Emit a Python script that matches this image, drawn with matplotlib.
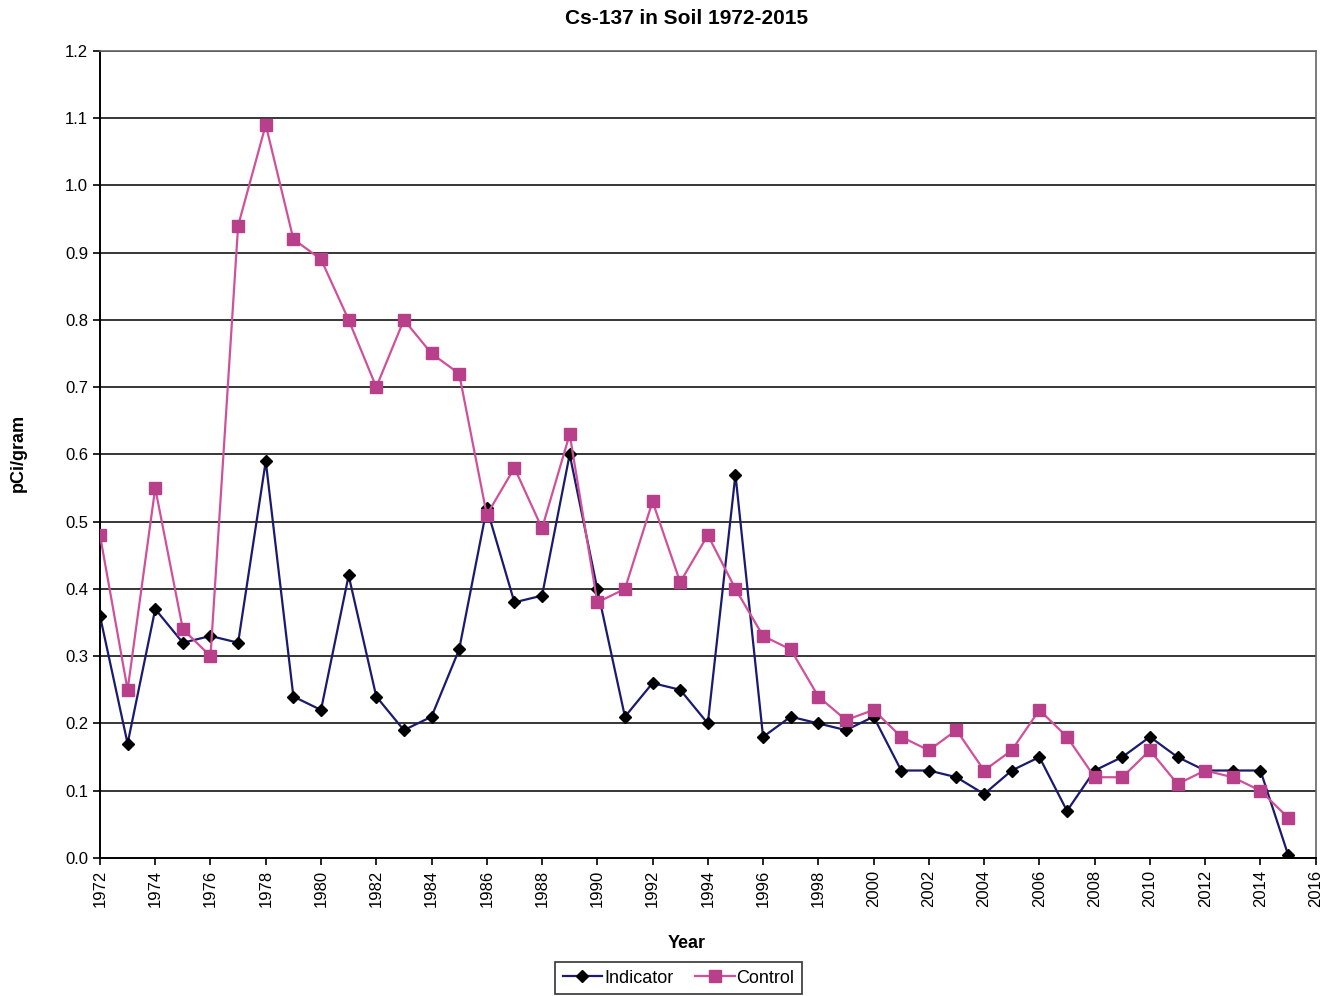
#!/usr/bin/env python3

import matplotlib
matplotlib.use("Agg")
import matplotlib.pyplot as plt

years = list(range(1972, 2016))

indicator = [0.36, 0.17, 0.37, 0.32, 0.33, 0.32, 0.59, 0.24, 0.22, 0.42,
             0.24, 0.19, 0.21, 0.31, 0.52, 0.38, 0.39, 0.60, 0.40, 0.21,
             0.26, 0.25, 0.20, 0.57, 0.18, 0.21, 0.20, 0.19, 0.21, 0.13,
             0.13, 0.12, 0.095, 0.13, 0.15, 0.07, 0.13, 0.15, 0.18, 0.15,
             0.13, 0.13, 0.13, 0.005]

control = [0.48, 0.25, 0.55, 0.34, 0.30, 0.94, 1.09, 0.92, 0.89, 0.80,
           0.70, 0.80, 0.75, 0.72, 0.51, 0.58, 0.49, 0.63, 0.38, 0.40,
           0.53, 0.41, 0.48, 0.40, 0.33, 0.31, 0.24, 0.205, 0.22, 0.18,
           0.16, 0.19, 0.13, 0.16, 0.22, 0.18, 0.12, 0.12, 0.16, 0.11,
           0.13, 0.12, 0.10, 0.06]

x_ticks = list(range(1972, 2017, 2))
y_ticks = [i / 10 for i in range(0, 13)]

plt.rcParams["font.family"] = ["Liberation Sans", "DejaVu Sans"]

fig = plt.figure(figsize=(13.33, 9.96), dpi=100)
ax = fig.add_axes([0.075, 0.1386, 0.912, 0.8104])

# Horizontal grid lines like the old spreadsheet chart
for y in y_ticks[1:]:
    ax.axhline(y, color="black", linewidth=1.1, zorder=1)

ax.plot(years, indicator, color="#1a1a6e", linewidth=1.6, marker="D",
        markersize=6, markerfacecolor="black", markeredgecolor="black",
        label="Indicator", zorder=3)
ax.plot(years, control, color="#d0509a", linewidth=1.6, marker="s",
        markersize=8, markerfacecolor="#b8408a", markeredgecolor="#b8408a",
        label="Control", zorder=3)

ax.set_xlim(1972, 2016)
ax.set_ylim(0, 1.2)
ax.set_xticks(x_ticks)
ax.set_xticklabels([str(t) for t in x_ticks], rotation=90, fontsize=12)
ax.set_yticks(y_ticks)
ax.set_yticklabels([f"{t:.1f}" for t in y_ticks], fontsize=12)
ax.tick_params(axis="both", direction="out", length=5, width=1.2, colors="black")

for side in ["left", "bottom"]:
    ax.spines[side].set_linewidth(1.4)
    ax.spines[side].set_color("black")
for side in ["top", "right"]:
    ax.spines[side].set_linewidth(1.2)
    ax.spines[side].set_color("#666666")

# Titles placed on the figure to match the original chart
fig.text(0.515, 0.981, "Cs-137 in Soil 1972-2015", fontsize=15,
         fontweight="bold", ha="center", va="center")
fig.text(0.515, 0.053, "Year", fontsize=13, fontweight="bold",
         ha="center", va="center")
fig.text(0.014, 0.545, "pCi/gram", fontsize=13, fontweight="bold",
         ha="center", va="center", rotation=90)

leg = fig.legend(loc="center", bbox_to_anchor=(0.509, 0.018), ncol=2,
                 fontsize=13, frameon=True, fancybox=False, handlelength=2.2,
                 handletextpad=0.1, columnspacing=1.2, borderpad=0.4)
leg.get_frame().set_edgecolor("black")
leg.get_frame().set_linewidth(1.2)

fig.savefig("out.png", dpi=100)
